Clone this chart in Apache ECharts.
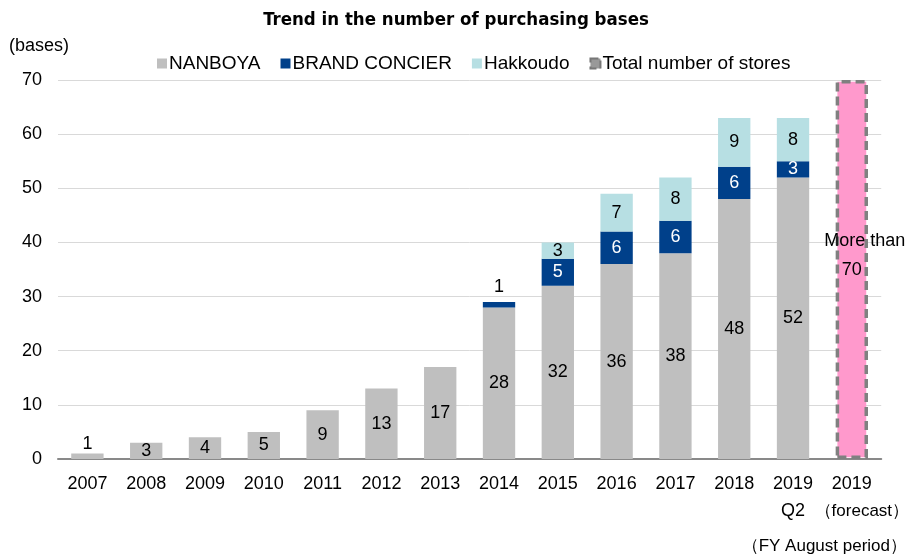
<!DOCTYPE html>
<html><head><meta charset="utf-8">
<script src="https://cdn.jsdelivr.net/npm/echarts@6/dist/echarts.min.js"></script>
<style>html,body{margin:0;padding:0;background:#fff}#c{width:912px;height:560px}</style>
</head><body><div id="c"></div>
<script>
const categories = ['2007','2008','2009','2010','2011','2012','2013','2014','2015','2016','2017','2018','2019\nQ2','2019\n（forecast）'];
const nanboya  = [1,3,4,5,9,13,17,28,32,36,38,48,52,'-'];
const brand    = ['-','-','-','-','-','-','-',1,5,6,6,6,3,'-'];
const hakkoudo = ['-','-','-','-','-','-','-','-',3,7,8,9,8,'-'];
const total    = ['-','-','-','-','-','-','-','-','-','-','-','-','-',70];
const yTicks = [0,10,20,30,40,50,60,70];

const FONT = 'Liberation Sans, Arial, sans-serif';
const chart = echarts.init(document.getElementById('c'));
chart.setOption({
  animation:false,
  textStyle:{fontFamily:FONT},
  title:{text:'Trend in the number of purchasing bases',left:'center',top:6,
    textStyle:{fontSize:18.5,fontWeight:'bold',color:'#000',fontFamily:'DejaVu Sans Condensed, sans-serif'}},
  legend:{top:49,left:152,itemWidth:10,itemHeight:10,itemGap:20,icon:'rect',
    textStyle:{fontSize:19,color:'#000',padding:[0,0,0,-3]},
    data:['NANBOYA','BRAND CONCIER','Hakkoudo',{name:'Total number of stores',itemStyle:{color:'#999',borderColor:'#777',borderType:'dashed',borderWidth:2}}]},
  graphic:[
    {type:'text',left:9,top:37,style:{text:'(bases)',fontSize:18,fill:'#000',fontFamily:FONT}},
    {type:'text',right:5,top:538,style:{text:'（FY August period）',fontSize:17,fill:'#000',fontFamily:FONT}}
  ],
  grid:{left:58,right:29,top:80,bottom:101},
  xAxis:{type:'category',data:categories,
    axisLine:{lineStyle:{color:'#898989',width:2}},
    axisTick:{lineStyle:{color:'#898989',width:2},length:6},
    axisLabel:{color:'#000',fontSize:18,margin:12,lineHeight:27,interval:0,
      formatter:v=>{const p=v.split('\n');return p.length>1&&p[1].indexOf('forecast')>=0?p[0]+'\n{f|'+p[1]+'}':v;},
      rich:{f:{fontSize:17,lineHeight:27,padding:[0,0,0,20],color:'#000'}}}},
  yAxis:{type:'value',min:0,max:70,interval:10,
    axisLine:{show:false},axisTick:{show:false},
    splitLine:{lineStyle:{color:'#d9d9d9',width:1}},
    axisLabel:{color:'#000',fontSize:18,margin:16,
      formatter:v=>yTicks.includes(v)?String(v):''}},
  series:[
    {name:'NANBOYA',type:'bar',stack:'a',barCategoryGap:'45%',
     itemStyle:{color:'#bfbfbf'},
     data:nanboya.map((v,i)=>i===0?{value:v,label:{position:'top',distance:1}}:v),
     label:{show:true,position:'inside',color:'#000',fontSize:18}},
    {name:'BRAND CONCIER',type:'bar',stack:'a',
     itemStyle:{color:'#00408a'},
     data:brand.map((v,i)=>i===7?{value:v,label:{position:'top',color:'#000',distance:6}}:v),
     label:{show:true,position:'inside',color:'#fff',fontSize:18}},
    {name:'Hakkoudo',type:'bar',stack:'a',
     itemStyle:{color:'#b7dfe3'},
     data:hakkoudo,
     label:{show:true,position:'inside',color:'#000',fontSize:18}},
    {name:'Total number of stores',type:'bar',stack:'a',
     itemStyle:{color:'#ff99cc',borderColor:'#808080',borderWidth:3.5,borderType:[9,5]},
     data:total,
     label:{show:true,position:'inside',offset:[13,-14],color:'#000',fontSize:18,
       formatter:'{a|More than}\n{b|70}',
       rich:{a:{fontSize:18,lineHeight:29},b:{fontSize:18,lineHeight:29,padding:[0,26,0,0]}}}}
  ]
});
</script></body></html>
